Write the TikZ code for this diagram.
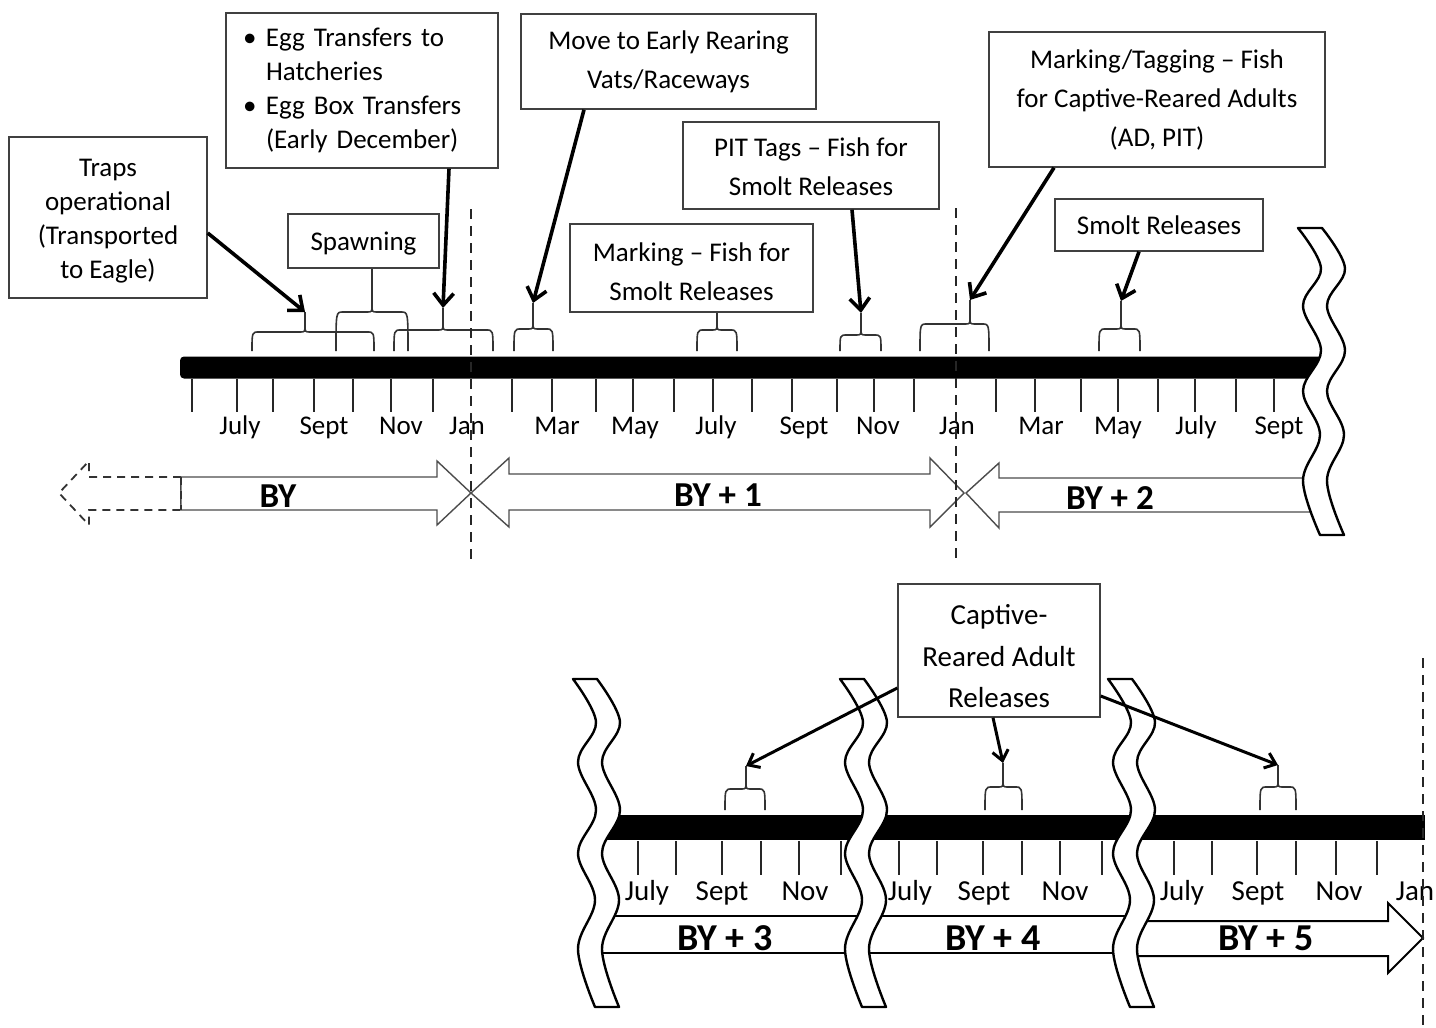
\documentclass[tikz,border=0pt]{standalone}
\usepackage{fontspec}
\setmainfont{Carlito}
\usetikzlibrary{arrows.meta}
\tikzset{
  box/.style={draw=black!75, line width=0.7pt, inner sep=0pt, align=center, font=\fontsize{13.5}{19.5}\selectfont},
  lbl/.style={font=\fontsize{13.5}{16}\selectfont, inner sep=0pt, anchor=base},
  lblbot/.style={font=\fontsize{14.5}{17}\selectfont, inner sep=0pt, anchor=base},
  bytop/.style={font=\fontsize{17.5}{20}\selectfont\bfseries, inner sep=0pt, anchor=base},
  bybot/.style={font=\fontsize{19}{22}\selectfont\bfseries, inner sep=0pt, anchor=base},
  tickmark/.style={line width=1pt, black!85},
  brc/.style={line width=0.8pt, black!80},
  callout/.style={line width=1.8pt, -{Straight Barb[length=6pt,width=10pt]}},
  callbot/.style={line width=1.5pt, -{Straight Barb[length=5pt,width=8pt]}},
  yrarrow/.style={draw=black!70, line width=0.7pt, fill=white, line join=miter},
  yrdash/.style={draw=black!80, line width=0.9pt, dash pattern=on 4pt off 3pt},
  wavestyle/.style={draw=black, line width=1.2pt, fill=white, line join=round},
  janline/.style={line width=1pt, black!85, dash pattern=on 5pt off 3.5pt},
}
\newcommand\fbrace[6]{%
  \draw[brc] (#1,#6) .. controls (#1,#4) .. (#1+7,#4) -- (#3-5,#4) .. controls (#3,#4) .. (#3,#4-7) -- (#3,#5);
  \draw[brc] (#2,#6) .. controls (#2,#4) .. (#2-7,#4) -- (#3+5,#4) .. controls (#3,#4) .. (#3,#4-7);}
\newcommand\wavebreak[3]{%
  \begin{scope}[shift={(#1,#2)}, yscale=#3]
    \filldraw[wavestyle] plot[smooth, tension=0.6] coordinates {(0,0) (23,43) (5,83) (23,131) (5,174) (22,221) (5,270) (22,328)}
      -- plot[smooth, tension=0.6] coordinates {(46,328) (29,270) (46,221) (29,174) (47,131) (29,83) (47,43) (24,0)} -- cycle;
  \end{scope}}
\begin{document}
\begin{tikzpicture}[x=0.5pt,y=-0.5pt]
\useasboundingbox (0,0) rectangle (1436,1028);

% ---------------- top timeline ----------------
\fill[rounded corners=2pt] (180,356.5) rectangle (1328,378.5);
\foreach \x in {192,237,273,314,353,391,433,512,552,596,633,674,713,752,792,837,874,914,996,1035,1081,1118,1158,1195,1236,1274}
  \draw[tickmark] (\x,379) -- (\x,412);
\foreach \x/\t [count=\i] in {240/July,324/Sept,401/Nov,467/Jan,557/Mar,635/May,716/July,804/Sept,878/Nov,957/Jan,1041/Mar,1118/May,1196/July,1279/Sept}
  \node[lbl] (mt\i) at (\x,434) {\t};

% braces (top)
\fbrace{252}{374}{305}{332}{312}{351}
\fbrace{336}{408}{372}{312}{268}{351}
\fbrace{394}{493}{443}{330}{308}{351}
\fbrace{514}{553}{533}{329}{303}{351}
\fbrace{697}{737}{717}{330}{312}{351}
\fbrace{840}{881}{861}{335}{313}{351}
\fbrace{920}{989}{970}{324}{300}{351}
\fbrace{1099}{1140}{1121}{329}{301}{351}
\coordinate (t1) at (305,312);
\coordinate (t3) at (443,308);
\coordinate (t4) at (533,303);
\coordinate (t6) at (861,313);
\coordinate (t7) at (970,300);
\coordinate (t8) at (1121,301);

% boxes (top)
\node[box, minimum width=99pt, minimum height=80.5pt, font=\fontsize{13.5}{17}\selectfont] (traps) at (108,217.5) {\rule{0pt}{12pt}Traps\\operational\\(Transported\\to Eagle)};
\node[box, minimum height=77.5pt, text width=119pt, inner xsep=8.5pt, align=left, font=\fontsize{13.5}{17}\selectfont] (egg) at (362,90.5)
  {\raisebox{-3pt}{\begin{tabular}{@{}l@{}}\makebox[11.5pt][l]{\textbullet}Egg Transfers to\\\hspace*{11.5pt}Hatcheries\\\makebox[11.5pt][l]{\textbullet}Egg Box Transfers\\\hspace*{11.5pt}(Early December)\end{tabular}}};
\node[box, minimum width=75.5pt, minimum height=27pt] (spawn) at (363.5,241) {\rule{0pt}{12pt}Spawning};
\node[box, minimum width=147.5pt, minimum height=47.5pt] (move) at (668.5,61.5) {Move to Early Rearing\\Vats/Raceways};
\node[box, minimum width=128pt, minimum height=43.5pt] (pit) at (811,165.5) {\rule{0pt}{11pt}PIT Tags – Fish for\\Smolt Releases};
\node[box, minimum width=121.5pt, minimum height=44pt] (mark) at (691.5,268) {\rule{0pt}{13pt}Marking – Fish for\\Smolt Releases};
\node[box, minimum width=168pt, minimum height=67.5pt] (tag) at (1157,99.5) {Marking/Tagging – Fish\\for Captive-Reared Adults\\(AD, PIT)};
\node[box, minimum width=104pt, minimum height=26pt] (smolt) at (1159,225) {Smolt Releases};

% callout arrows (top)
\draw[callout] ([yshift=-7.75pt]traps.east) -- (t1);
\draw[callout] ([xshift=43.5pt]egg.south) -- (t3);
\draw[callout] ([xshift=-42.25pt]move.south) -- (t4);
\draw[callout] ([xshift=20.5pt]pit.south) -- (t6);
\draw[callout] ([xshift=-51.5pt]tag.south) -- (t7);
\draw[callout] ([xshift=-10pt]smolt.south) -- (t8);

% year arrows (top)
\draw[yrdash] (181,477) -- (89,477) -- (89,461) -- (59,493) -- (89,525) -- (89,510) -- (181,510) -- cycle;
\filldraw[yrarrow] (181,510) -- (181,477) -- (437,477) -- (437,461) -- (471,493) -- (437,525) -- (437,510) -- cycle;
\draw[yrdash] (181,477) -- (181,510);
\filldraw[yrarrow] (471,493) -- (509,458) -- (509,474) -- (930,474) -- (930,458) -- (964,493) -- (930,527) -- (930,510) -- (509,510) -- (509,527) -- cycle;
\filldraw[yrarrow] (966,493) -- (999,463) -- (999,478) -- (1318,478) -- (1318,512) -- (999,512) -- (999,528) -- cycle;
\node[bytop] (by0) at (278,507) {BY};
\node[bytop] (by1) at (718,506) {BY + 1};
\node[bytop] (by2) at (1110,509) {BY + 2};

\draw[janline] (471,209) -- (471,560);
\draw[janline] (956,208) -- (956,560);

\wavebreak{1298}{228}{0.936}

% ---------------- bottom timeline ----------------
\fill (600,815) rectangle (1425,840);
\foreach \x in {638,676,722,761,799,841,899,937,983,1022,1060,1102,1174,1212,1257,1296,1336,1377}
  \draw[tickmark] (\x,841) -- (\x,875);
\foreach \x/\t [count=\i] in {647/July,722/Sept,805/Nov,910/July,984/Sept,1065/Nov,1182/July,1258/Sept,1339/Nov,1415/Jan}
  \node[lblbot] (mb\i) at (\x,900) {\t};

\fbrace{725}{765}{746}{789}{766}{810}
\fbrace{985}{1022}{1003}{787}{763}{810}
\fbrace{1260}{1296}{1278}{787}{765}{810}
\coordinate (c1) at (746,766);
\coordinate (c2) at (1003,763);
\coordinate (c3) at (1278,765);

% year bands (bottom)
\draw[black, line width=1pt] (596,916) -- (862,916) (596,953) -- (862,953);
\draw[black, line width=1pt] (862,916) -- (1135,916) (862,953) -- (1135,953);
\filldraw[black, line width=1pt, fill=white] (1135,921) -- (1388,921) -- (1388,903) -- (1423,938) -- (1388,973) -- (1388,956) -- (1135,956);
\node[bybot] (by3) at (725,950) {BY + 3};
\node[bybot] (by4) at (993,950) {BY + 4};
\node[bybot] (by5) at (1266,950) {BY + 5};

\wavebreak{573}{679}{1}
\wavebreak{840}{679}{1}
\wavebreak{1108}{679}{1}

\draw[janline] (1423,658) -- (1423,1028);

\node[box, minimum width=101pt, minimum height=66.5pt, font=\fontsize{14.5}{20.75}\selectfont] (captive) at (999,650.5) {\rule{0pt}{16pt}Captive-\\Reared Adult\\Releases};
\draw[callbot] ([yshift=-18.75pt]captive.west) -- (c1);
\draw[callbot] ([xshift=-3pt]captive.south) -- (c2);
\draw[callbot] ([yshift=-22.75pt]captive.east) -- (c3);
\end{tikzpicture}
\end{document}
